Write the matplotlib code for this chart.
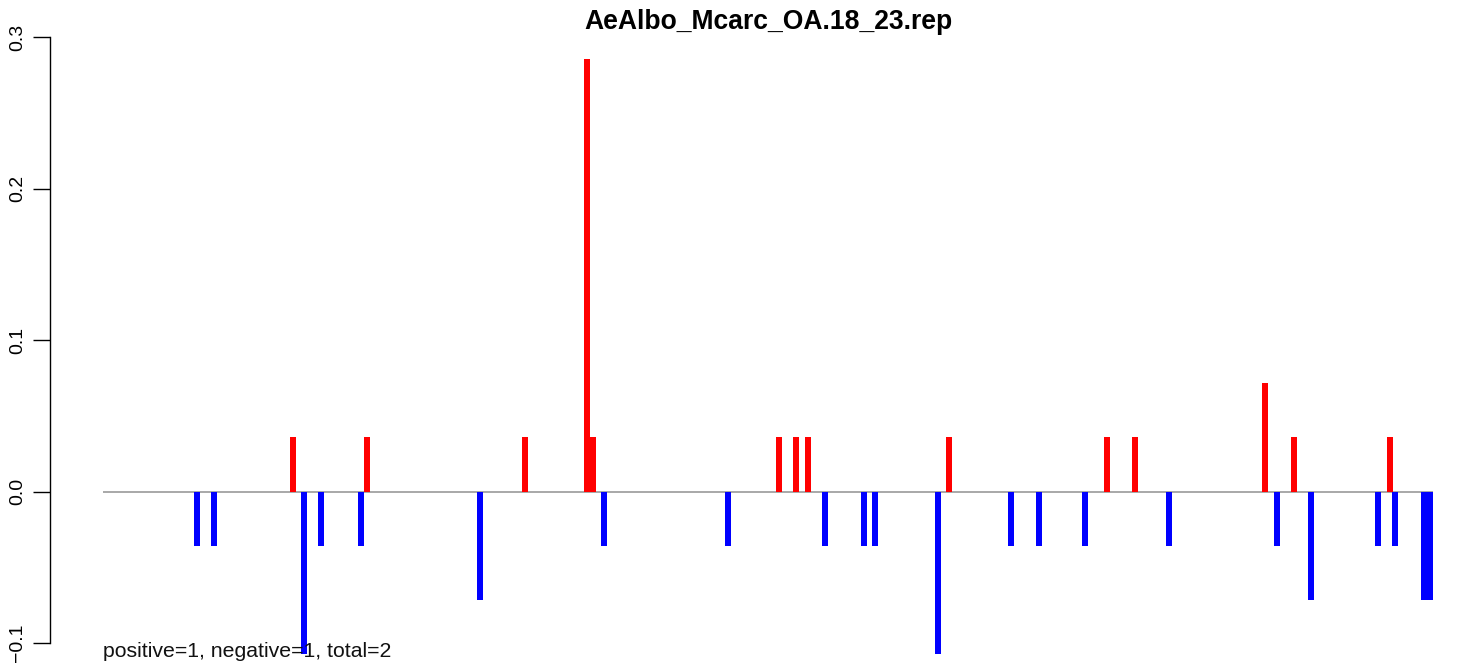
import matplotlib

matplotlib.use("Agg")

import matplotlib.pyplot as plt
import matplotlib.transforms as mtransforms

plt.rcParams["font.family"] = ["Liberation Sans", "DejaVu Sans"]

TITLE = "AeAlbo_Mcarc_OA.18_23.rep"
NOTE = "positive=1, negative=1, total=2"

# bar left edges (bar index units) and heights
pos_x = [31.1, 43.45, 69.8, 80.1, 81.1, 112.1, 114.95, 116.95, 140.45,
         166.8, 171.45, 193.1, 197.95, 213.95]
pos_y = [0.0357, 0.0357, 0.0357, 0.2857, 0.0357, 0.0357, 0.0357, 0.0357,
         0.0357, 0.0357, 0.0357, 0.0714, 0.0357, 0.0357]

neg_x = [15.1, 17.95, 32.95, 35.8, 42.45, 62.3, 82.95, 103.6, 119.8, 126.3,
         128.1, 138.6, 150.8, 155.45, 163.1, 177.1, 195.1, 200.8, 211.95,
         214.8, 219.6, 220.6]
neg_y = [-0.0357, -0.0357, -0.1071, -0.0357, -0.0357, -0.0714, -0.0357,
         -0.0357, -0.0357, -0.0357, -0.0357, -0.1071, -0.0357, -0.0357,
         -0.0357, -0.0357, -0.0357, -0.0714, -0.0357, -0.0357, -0.0714,
         -0.0714]

y_ticks = [-0.1, 0.0, 0.1, 0.2, 0.3]

W, H = 1483, 666
fig = plt.figure(figsize=(W / 100, H / 100), dpi=100)
ax = fig.add_axes([50 / W, 0.0, 1410 / W, 646 / H])

bar_w = 1.0
x_end = max(pos_x + neg_x) + bar_w
ax.hlines(0, 0, x_end, color="#999999", linewidth=1.2, zorder=1)
ax.bar(pos_x, pos_y, width=bar_w, align="edge", color="#ff0000",
       linewidth=0, zorder=2)
ax.bar(neg_x, neg_y, width=bar_w, align="edge", color="#0000ff",
       linewidth=0, zorder=2)

# px per unit: x 6.0, y 1515
ax.set_xlim(-53.3 / 6.0, (1460 - 103.3) / 6.0)
ax.set_ylim(-0.1 - 23 / 1515, 0.3 + 17 / 1515)

for side in ("top", "right", "bottom"):
    ax.spines[side].set_visible(False)
ax.spines["left"].set_bounds(-0.1, 0.3)
ax.spines["left"].set_linewidth(1.0)
ax.set_xticks([])
ax.set_yticks(y_ticks)
ax.set_yticklabels([f"{t:.1f}".replace("-", "\u2212") for t in y_ticks],
                   rotation=90, va="center")
ax.tick_params(axis="y", length=12, width=1.0, pad=5, labelsize=14)

trans = mtransforms.blended_transform_factory(ax.transData, ax.transAxes)
ax.text(0, 9 / 646, NOTE, transform=trans, ha="left", va="baseline",
        fontsize=15.3, color="#111111")

fig.text(768 / W, 1 - 22 / H, TITLE, ha="center", va="center",
         fontsize=19.1, fontweight="bold")

fig.savefig("out.png", dpi=100)
